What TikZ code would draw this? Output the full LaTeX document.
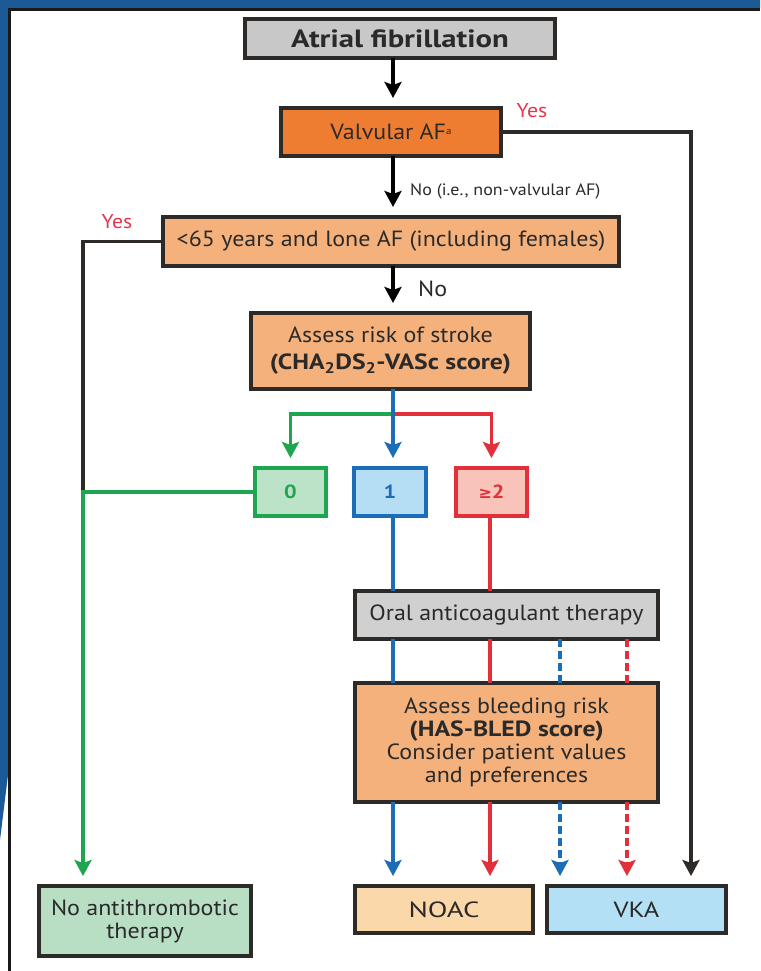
\documentclass[tikz,border=0pt]{standalone}
\usepackage{fontspec}
\setmainfont{PT Sans}[FakeStretch=1.09, BoldFeatures={FakeStretch=1.17}]
\newfontfamily\symfont{DejaVu Sans}
\usetikzlibrary{arrows.meta}
\definecolor{bgblue}{HTML}{1B5A96}
\definecolor{boxline}{HTML}{2E2A28}
\definecolor{txt}{HTML}{2A2A2A}
\definecolor{grayfill}{HTML}{C8C8C8}
\definecolor{oatfill}{HTML}{D0D0D0}
\definecolor{darkorange}{HTML}{EF7D31}
\definecolor{lightorange}{HTML}{F5B17B}
\definecolor{gline}{HTML}{1EA550}
\definecolor{gfill}{HTML}{BCE2C8}
\definecolor{bline}{HTML}{1B6DB8}
\definecolor{bfill}{HTML}{B5DDF4}
\definecolor{rline}{HTML}{E2303A}
\definecolor{rfill}{HTML}{F8C4B9}
\definecolor{noatfill}{HTML}{B8DEC4}
\definecolor{noacfill}{HTML}{FAD8AA}
\definecolor{vkafill}{HTML}{B4E0F6}
\definecolor{yesred}{HTML}{E5364E}
\tikzset{
  box/.style={draw=boxline, line width=3.2pt, inner sep=0pt, outer sep=0pt, align=center, text=txt,
    font=\fontsize{22}{23}\selectfont},
  conn/.style={line width=3.2pt, line cap=butt},
  arr/.style={conn, -{Stealth[width=17pt,length=16pt,inset=3pt]}, shorten >=10pt},
  lbl/.style={inner sep=0pt, text=txt, font=\fontsize{16.5}{18}\selectfont},
  yes/.style={inner sep=0pt, text=yesred, font=\fontsize{20}{22}\selectfont},
  score/.style={box, minimum height=48pt, font=\fontsize{19}{20}\selectfont\bfseries},
}
\begin{document}
\begin{tikzpicture}[x=1pt,y=-1pt]
\useasboundingbox (0,0) rectangle (760,971);
\fill[white] (0,0) rectangle (760,971);
\fill[bgblue] (0,0) -- (760,0) -- (760,8) -- (8,8) -- (8,775) -- (0,840) -- cycle;
\draw[line width=2.5pt, black!90] (760,9.5) -- (9.5,9.5) -- (9.5,971);

% nodes
\node[box, fill=grayfill, minimum width=310pt, minimum height=39pt, font=\fontsize{25}{26}\selectfont\bfseries] (af) at (400,38.5) {\scalebox{1.05}[1]{Atrial fibrillation}};
\node[box, fill=darkorange, minimum width=220pt, minimum height=48pt] (val) at (391,132) {Valvular AF\raisebox{0.5ex}{\fontsize{10}{10}\selectfont a}};
\node[box, fill=lightorange, minimum width=456pt, minimum height=49pt] (lone) at (391,241.5) {<65 years and lone AF (including females)};
\node[box, fill=lightorange, minimum width=279pt, minimum height=76pt, font=\fontsize{22}{27}\selectfont] (stroke) at (390.5,351) {Assess risk of stroke\\\textbf{(CHA\textsubscript{2}DS\textsubscript{2}-VASc score)}};
\node[score, draw=gline, fill=gfill, text=gline, minimum width=71pt] (b0) at (290.5,492) {0};
\node[score, draw=bline, fill=bfill, text=bline, minimum width=72pt] (b1) at (390,492) {1};
\node[score, draw=rline, fill=rfill, text=rline, minimum width=71pt] (b2) at (491.5,492) {{\symfont\fontsize{16}{18}\selectfont ≥}2};
\node[box, fill=oatfill, minimum width=303pt, minimum height=48pt] (oat) at (506.5,615) {Oral anticoagulant therapy};
\node[box, fill=lightorange, minimum width=303pt, minimum height=119pt] (bleed) at (506.5,742.5) {Assess bleeding risk\\\textbf{(HAS-BLED score)}\\Consider patient values\\and preferences};
\node[box, fill=noatfill, minimum width=212pt, minimum height=70pt] (noat) at (145,921) {No antithrombotic\\therapy};
\node[box, fill=noacfill, minimum width=178pt, minimum height=47pt] (noac) at (444,909.5) {\scalebox{1.2}[1]{NOAC}};
\node[box, fill=vkafill, minimum width=179pt, minimum height=47pt] (vka) at (636.5,909.5) {\scalebox{1.1}[1]{VKA}};

% labels
\node[yes] (yes1) at (532,111) {Yes};
\node[yes] (yes2) at (117,222) {Yes};
\node[lbl, anchor=west] (nolbl1) at (410,191) {No (i.e., non-valvular AF)};
\node[lbl, anchor=west, font=\fontsize{22}{24}\selectfont] (nolbl2) at (418,289) {No};

% helper coordinates
\coordinate (R) at (691,0);
\coordinate (L) at (83,0);
\coordinate (br) at (0,414);
\coordinate (xb) at (393,0);
\coordinate (xr) at (490,0);
\coordinate (xdb) at (560,0);
\coordinate (xdr) at (627,0);

% main spine
\draw[arr] (af.south -| xb) -- (val.north -| xb);
\draw[arr] (val.south -| xb) -- (lone.north -| xb);
\draw[arr] (lone.south -| xb) -- (stroke.north -| xb);

% yes branches
\draw[conn, boxline] (val.east) -| (br -| R);
\draw[arr, boxline] (br -| R) -- (vka.north -| R);
\draw[conn, boxline] (lone.west) -| (b0.west -| L);
\draw[arr, gline] (b0.west) -- (b0.west -| L) -- (noat.north -| L);

% score branches
\draw[arr, gline] (br -| xb) -- (br -| b0) -- (b0.north);
\draw[arr, rline] (br -| xb) -- (br -| b2) -- (b2.north);
\draw[arr, bline] (stroke.south -| xb) -- (b1.north -| xb);

% to OAT
\draw[conn, bline] (b1.south -| xb) -- (oat.north -| xb);
\draw[conn, rline] (b2.south -| xr) -- (oat.north -| xr);
\draw[conn, bline] (oat.south -| xb) -- (bleed.north -| xb);
\draw[conn, rline] (oat.south -| xr) -- (bleed.north -| xr);
\draw[conn, bline, dash pattern=on 8pt off 4pt] (oat.south -| xdb) -- (bleed.north -| xdb);
\draw[conn, rline, dash pattern=on 8pt off 4pt] (oat.south -| xdr) -- (bleed.north -| xdr);

% to treatments
\draw[arr, bline] (bleed.south -| xb) -- (noac.north -| xb);
\draw[arr, rline] (bleed.south -| xr) -- (noac.north -| xr);
\draw[arr, bline, dash pattern=on 8pt off 4pt] (bleed.south -| xdb) -- (vka.north -| xdb);
\draw[arr, rline, dash pattern=on 8pt off 4pt] (bleed.south -| xdr) -- (vka.north -| xdr);
\end{tikzpicture}
\end{document}
